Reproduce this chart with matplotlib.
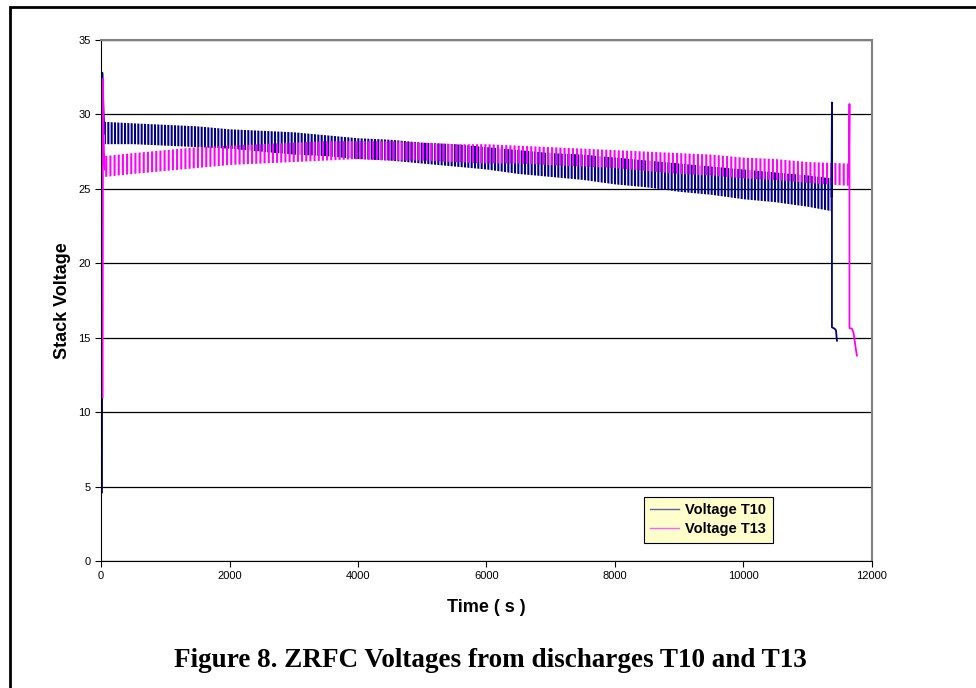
import matplotlib
matplotlib.use("Agg")
import matplotlib.pyplot as plt
from matplotlib.patches import Rectangle

# oscillating part: envelope (upper / lower peaks)
t10_t = [60, 500, 1000, 1500, 2000, 2500, 3000, 3500, 4000, 4500, 5000, 5500,
         6000, 6500, 7000, 7500, 8000, 8500, 9000, 9500, 10000, 10500, 11000, 11370]
t10_hi = [29.5, 29.4, 29.3, 29.2, 29.0, 28.9, 28.8, 28.6, 28.4, 28.3, 28.1, 28.0,
          27.8, 27.6, 27.4, 27.3, 27.1, 26.9, 26.7, 26.5, 26.3, 26.1, 25.9, 25.7]
t10_lo = [28.0, 28.0, 27.9, 27.8, 27.7, 27.5, 27.3, 27.2, 27.0, 26.9, 26.7, 26.5,
          26.3, 26.0, 25.8, 25.6, 25.3, 25.1, 24.8, 24.6, 24.3, 24.1, 23.8, 23.5]

t13_t = [60, 500, 1000, 1500, 2000, 2500, 3000, 3500, 4000, 4500, 5000, 5500,
         6000, 6500, 7000, 7500, 8000, 8500, 9000, 9500, 10000, 10500, 11000, 11640]
t13_hi = [27.2, 27.4, 27.6, 27.8, 27.9, 28.0, 28.1, 28.2, 28.2, 28.2, 28.1, 28.0,
          28.0, 27.9, 27.8, 27.7, 27.6, 27.5, 27.4, 27.3, 27.1, 27.0, 26.8, 26.7]
t13_lo = [25.8, 26.0, 26.2, 26.4, 26.6, 26.7, 26.8, 26.9, 27.0, 26.9, 26.9, 26.8,
          26.7, 26.7, 26.6, 26.5, 26.4, 26.2, 26.0, 25.9, 25.7, 25.6, 25.4, 25.2]

# start-up and shut-down transients
t10_start_t = [15, 20, 40, 60]
t10_start_v = [4.6, 32.8, 30.0, 28.7]
t10_end_t = [11370, 11377, 11377, 11420, 11440, 11455]
t10_end_v = [24.5, 30.8, 15.7, 15.6, 15.5, 14.8]

t13_start_t = [25, 30, 45, 60]
t13_start_v = [11.0, 32.4, 27.5, 26.3]
t13_end_t = [11640, 11650, 11650, 11690, 11715, 11750, 11766]
t13_end_v = [25.8, 30.7, 15.65, 15.6, 15.3, 14.2, 13.8]

navy = "#000080"
pink = "#FF00FF"

plt.rcParams["hatch.linewidth"] = 1.5

fig = plt.figure(figsize=(9.76, 6.88), dpi=100)
ax = fig.add_axes([0.1035, 0.1846, 0.7899, 0.7573])

ax.fill_between(t10_t, t10_lo, t10_hi, facecolor="none", edgecolor=navy,
                hatch="|||||", linewidth=0)
ax.plot(t10_start_t, t10_start_v, color=navy, lw=1.3)
ax.plot(t10_end_t, t10_end_v, color=navy, lw=1.3)

ax.fill_between(t13_t, t13_lo, t13_hi, facecolor="none", edgecolor=pink,
                hatch="||||", linewidth=0)
ax.plot(t13_start_t, t13_start_v, color=pink, lw=1.3)
ax.plot(t13_end_t, t13_end_v, color=pink, lw=1.3)

# legend handles
ax.plot([], [], color="#6060a8", lw=1, label="Voltage T10")
ax.plot([], [], color="#ff60ff", lw=1, label="Voltage T13")

ax.set_xlim(0, 12000)
ax.set_ylim(0, 35)
ax.set_xticks(range(0, 12001, 2000))
ax.set_yticks(range(0, 36, 5))
ax.yaxis.grid(True, color="black", lw=0.9)
ax.set_axisbelow(True)
ax.tick_params(labelsize=8, length=4, width=0.8, color="black")
for lab in ax.get_xticklabels() + ax.get_yticklabels():
    lab.set_fontfamily("Liberation Sans")
ax.spines["top"].set_color("#808080")
ax.spines["right"].set_color("#808080")
ax.spines["top"].set_linewidth(1.5)
ax.spines["right"].set_linewidth(1.5)

ax.set_xlabel("Time ( s )", fontsize=13, fontweight="bold", family="Liberation Sans", labelpad=13)
ax.set_ylabel("Stack Voltage", fontsize=13, fontweight="bold", family="Liberation Sans", labelpad=5)

leg = ax.legend(loc="lower left", bbox_to_anchor=(0.704, 0.0345), borderaxespad=0, frameon=True,
                fancybox=False, prop={"family": "Liberation Sans", "weight": "bold", "size": 10.5},
                handlelength=2.0, handletextpad=0.4, borderpad=0.45, labelspacing=0.35)
leg.get_frame().set_facecolor("#FFFFCC")
leg.get_frame().set_edgecolor("black")
leg.get_frame().set_linewidth(0.8)
leg.get_frame().set_alpha(1)

fig.text(0.502, 0.04, "Figure 8. ZRFC Voltages from discharges T10 and T13",
         ha="center", va="center", fontsize=19.5, fontweight="bold", family="Liberation Serif")

# page frame
fig.patches.append(Rectangle((9.5 / 976, -0.05), 1.2, 1.05 - 6.5 / 688, transform=fig.transFigure,
                             fill=False, edgecolor="black", lw=2))

fig.savefig("out.png", dpi=100)
